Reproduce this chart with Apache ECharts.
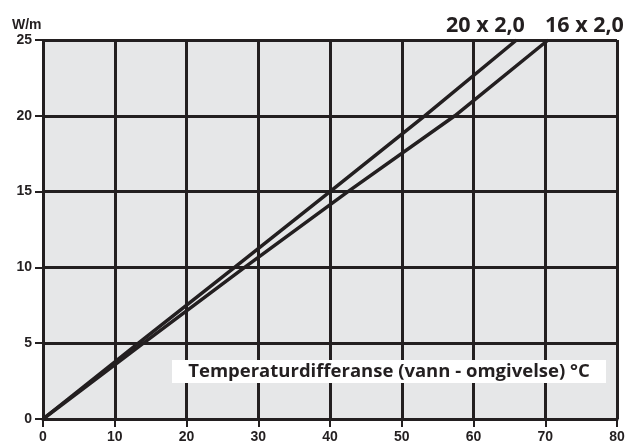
<!DOCTYPE html>
<html><head><meta charset="utf-8">
<script src="https://cdn.jsdelivr.net/npm/echarts@6/dist/echarts.min.js"></script>
<style>html,body{margin:0;padding:0;background:#fff}#c{width:632px;height:441px}</style>
</head><body><div id="c"></div>
<script>
const xTicks = [0,10,20,30,40,50,60,70,80];
const yTicks = [0,5,10,15,20,25];
const series20Name = '20 x 2,0';
const series16Name = '16 x 2,0';
const series20 = [[0,0],[13.3,5],[26.7,10],[40,15],[53.2,20],[66,25]];
const series16 = [[0,0],[14,5],[28.1,10],[42.5,15],[57.4,20],[70.4,25]];
const xTitle = 'Temperaturdifferanse (vann - omgivelse) °C';
const yUnit = 'W/m';

const ink = '#231f20';
const font = '"Open Sans", "Noto Sans", sans-serif';
const tickFont = '"Liberation Sans", Arial, sans-serif';
const chart = echarts.init(document.getElementById('c'));
chart.setOption({
  animation: false,
  grid: {left: 43, right: 15, top: 40, bottom: 22, show: true, backgroundColor: '#e6e7e8', borderWidth: 0,
         containLabel: false, outerBoundsMode: 'none'},
  xAxis: {
    type: 'value', min: 0, max: 80, interval: 10,
    axisLine: {show: true, lineStyle: {color: ink, width: 3}},
    axisTick: {show: true, length: 8, lineStyle: {color: ink, width: 2}},
    splitLine: {show: true, lineStyle: {color: ink, width: 3}},
    axisLabel: {color: ink, fontFamily: tickFont, fontWeight: 'bold', fontSize: 14, margin: 11,
      formatter: v => xTicks.includes(v) ? String(v) : ''}
  },
  yAxis: {
    type: 'value', min: 0, max: 25, interval: 5,
    axisLine: {show: false},
    axisTick: {show: true, length: 8, lineStyle: {color: ink, width: 2}},
    splitLine: {show: true, lineStyle: {color: ink, width: 3}},
    axisLabel: {color: ink, fontFamily: tickFont, fontWeight: 'bold', fontSize: 14, margin: 11,
      formatter: v => yTicks.includes(v) ? String(v) : ''}
  },
  series: [
    {name: series20Name, type: 'line', data: series20, showSymbol: false, symbol: 'none',
     lineStyle: {color: ink, width: 3.5}, z: 5},
    {name: series16Name, type: 'line', data: series16, showSymbol: false, symbol: 'none',
     lineStyle: {color: ink, width: 3.5}, z: 5}
  ],
  graphic: [
    {type: 'text', z: 10, x: 12, y: 25,
     style: {text: yUnit, fill: ink, font: 'bold 14px ' + tickFont, textVerticalAlign: 'middle'}},
    {type: 'text', z: 10, x: 446, y: 26,
     style: {text: series20Name, fill: ink, font: 'bold 21.5px ' + font, textVerticalAlign: 'middle'}},
    {type: 'text', z: 10, x: 545, y: 26,
     style: {text: series16Name, fill: ink, font: 'bold 21.5px ' + font, textVerticalAlign: 'middle'}},
    {type: 'rect', left: 172, top: 360, z: 10, shape: {width: 434, height: 23}, style: {fill: '#fff'}},
    {type: 'text', z: 11, x: 389, y: 372,
     style: {text: xTitle, fill: ink, font: 'bold 18.5px ' + font, textAlign: 'center', textVerticalAlign: 'middle'}}
  ]
});
</script></body></html>
